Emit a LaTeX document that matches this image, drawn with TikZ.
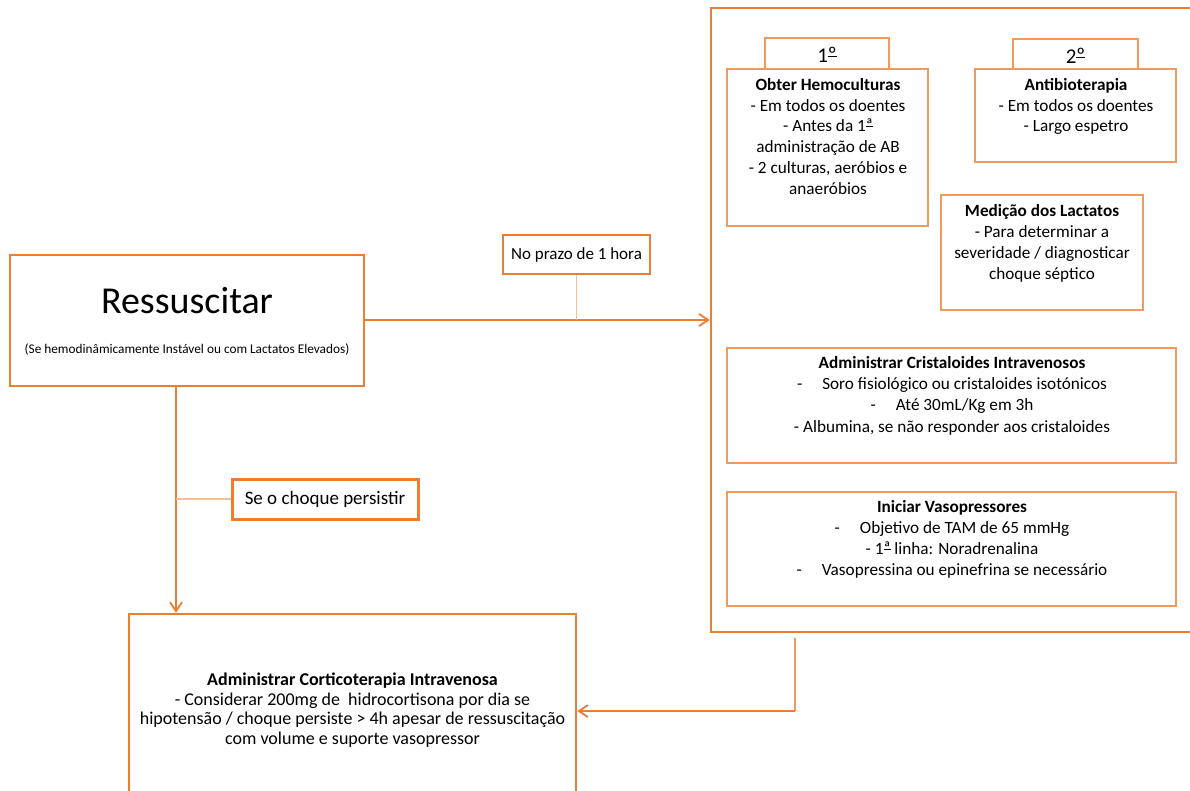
\documentclass[tikz,border=0pt]{standalone}
\usepackage{fontspec}
\setmainfont{Carlito}
\usetikzlibrary{arrows.meta}
\definecolor{org}{HTML}{ED7D31}
\definecolor{orgl}{HTML}{F29A5E}
\definecolor{orgt}{HTML}{F7BE96}
\newcommand{\ordu}[1]{\leavevmode\setbox0=\hbox{\raisebox{0.06em}{#1}}\rlap{\copy0}\rule[0.27em]{\wd0}{0.06em}}
\begin{document}
\begin{tikzpicture}[x=1pt,y=-1pt,
  box/.style={draw=org, line width=2pt, inner sep=0pt, fill=white},
  inbox/.style={draw=orgl, line width=1.5pt, inner sep=0pt, fill=white},
  txt/.style={inner sep=0pt, align=center, anchor=north, font=\fontsize{17.2}{20.8}\selectfont},
  conn/.style={draw=org, line width=2pt, -{Straight Barb[length=9pt,width=12pt,line width=1.8pt]}},
  thin/.style={draw=orgt, line width=1.2pt}]
\useasboundingbox (0,0) rectangle (1190,791);
\fill[white] (0,0) rectangle (1190,791);

% Left: Ressuscitar
\node[box, minimum width=354pt, minimum height=131pt] (res) at (187,320.5) {};
\node[inner sep=0pt, anchor=base, font=\fontsize{38}{42}\selectfont] (restitle) at (187,313) {Ressuscitar};
\node[inner sep=0pt, font=\fontsize{13.3}{15}\selectfont] (ressub) at (187,350) {(Se hemodinâmicamente Instável ou com Lactatos Elevados)};

% Big right container
\node[box, line width=2.5pt, minimum width=484pt, minimum height=624pt] (big) at (953,320) {};

% label on first arrow
\node[box, minimum width=147pt, minimum height=39pt, font=\fontsize{17}{19}\selectfont] (prazo) at (576.5,254.5) {No prazo de 1 hora};

% 1st / 2nd tabs
\node[inbox, minimum width=124pt, minimum height=31pt] (tab1) at (827,53.5) {};
\node[inner sep=0pt, anchor=base, font=\fontsize{21}{23}\selectfont] (tab1t) at (827,63) {1\ordu{º}};
\node[inbox, minimum width=125pt, minimum height=30pt] (tab2) at (1075.5,54) {};
\node[inner sep=0pt, anchor=base, font=\fontsize{21}{23}\selectfont] (tab2t) at (1075.5,63.5) {2\ordu{º}};

% inner boxes
\node[inbox, minimum width=201pt, minimum height=157pt] (hemo) at (827.5,147.5) {};
\node[txt] (hemot) at (828,78) {\textbf{Obter Hemoculturas}\\- Em todos os doentes\\- Antes da 1\ordu{ª}\\administração de AB\\- 2 culturas, aeróbios e\\anaeróbios};

\node[inbox, minimum width=201pt, minimum height=93pt] (anti) at (1075.5,115.5) {};
\node[txt] (antit) at (1076,78) {\textbf{Antibioterapia}\\- Em todos os doentes\\- Largo espetro};

\node[inbox, minimum width=202pt, minimum height=115pt] (lact) at (1042,252.5) {};
\node[txt] (lactt) at (1042,204.5) {\textbf{Medição dos Lactatos}\\- Para determinar a\\severidade / diagnosticar\\choque séptico};

\node[inbox, minimum width=449pt, minimum height=115pt] (crist) at (951.5,405.5) {};
\node[txt, font=\fontsize{17.2}{21.3}\selectfont] (cristt) at (952,356) {\textbf{Administrar Cristaloides Intravenosos}\\-\hspace{20pt}Soro fisiológico ou cristaloides isotónicos\\-\hspace{20pt}Até 30mL/Kg em 3h\\- Albumina, se não responder aos cristaloides};

\node[inbox, minimum width=449pt, minimum height=114pt] (vaso) at (951.5,549) {};
\node[txt] (vasot) at (952,500.5) {\textbf{Iniciar Vasopressores}\\-\hspace{20pt}Objetivo de TAM de 65 mmHg\\- 1\ordu{ª} linha: Noradrenalina\\-\hspace{20pt}Vasopressina ou epinefrina se necessário};

% Corticoterapia
\node[box, line width=2.5pt, minimum width=447pt, minimum height=181pt] (cort) at (352.5,704.5) {};
\node[txt, font=\fontsize{18}{19.4}\selectfont] (cortt) at (352.5,673) {\textbf{Administrar Corticoterapia Intravenosa}\\- Considerar 200mg de\ \ hidrocortisona por dia se\\hipotensão / choque persiste > 4h apesar de ressuscitação\\com volume e suporte vasopressor};

% Se o choque persistir
\node[box, line width=3pt, minimum width=186pt, minimum height=40pt, font=\fontsize{19}{21}\selectfont] (choque) at (325,499) {Se o choque persistir};

% connectors
\draw[conn] (res.east |- big.west) -- (big.west);
\draw[thin] (prazo.south) -- (prazo.south |- big.west);

\coordinate (d1) at (176,386);
\draw[conn] (d1) -- (d1 |- cort.north);
\draw[thin] (choque.west) -- (choque.west -| d1);

\coordinate (b1) at (795,638);
\coordinate (b2) at (795,711);
\draw[draw=orgl, line width=2pt] (b1) -- (b2);
\draw[conn] (b2) -- (b2 -| cort.east);
\end{tikzpicture}
\end{document}
